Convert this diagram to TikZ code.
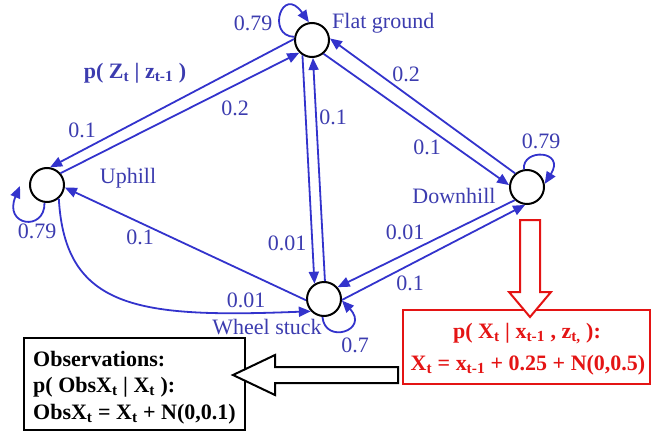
\documentclass[tikz,border=0pt]{standalone}
\usepackage{fontspec}
\setmainfont{Liberation Serif}
\usetikzlibrary{arrows.meta}
\definecolor{lblue}{RGB}{51,51,204}
\definecolor{tblue}{RGB}{60,60,175}
\definecolor{rred}{RGB}{228,20,20}
\newcommand{\sbs}[1]{\textsubscript{#1}}
\begin{document}
\begin{tikzpicture}[x=1pt,y=1pt,
  state/.style={circle,draw=black,line width=2pt,minimum size=34pt,inner sep=0pt,fill=white},
  conn/.style={draw=lblue,line width=1.8pt,-{Triangle[length=12pt,width=10pt]}},
  lbl/.style={text=tblue,font=\fontsize{22}{25}\selectfont,inner sep=0pt},
  btxt/.style={font=\fontsize{22}{25}\selectfont\bfseries,inner sep=0pt},
  obsbox/.style={draw=black,line width=2pt,minimum width=221pt,minimum height=92pt,inner sep=0pt},
  redbox/.style={draw=rred,line width=2pt,minimum width=247pt,minimum height=74pt,inner sep=0pt},
  fat/.style={line width=2pt,fill=white,line join=miter}]
\useasboundingbox (0,0) rectangle (652,-433);

% states
\node[state] (F) at (312,-40) {};
\node[state] (U) at (47,-185) {};
\node[state] (D) at (527,-187) {};
\node[state] (W) at (324,-299) {};

% state names
\node[lbl,anchor=west] (nF) at (332,-23) {Flat ground};
\node[lbl] (nU) at (128,-178) {Uphill};
\node[lbl] (nD) at (454,-196) {Downhill};
\node[lbl] (nW) at (267,-327) {Wheel stuck};
\node[lbl,font=\fontsize{22}{25}\selectfont\bfseries] (pz) at (135,-73) {p( Z\sbs{t} | z\sbs{t-1} )};

% transitions
\draw[conn] (F.177) -- (U.80);
\draw[conn] (U.41) -- (F.225);
\draw[conn] (F.238) -- (W.122);
\draw[conn] (W.87) -- (F.273);
\draw[conn] (D.131) -- (F.5);
\draw[conn] (F.310) -- (D.174);
\draw[conn] (D.227) -- (W.41);
\draw[conn] (W.357) -- (D.264);
\draw[conn] (W.184) -- (U.352);
\draw[conn] (U.311) .. controls (65,-310) and (140,-318) .. (W.223);

% self loops
\coordinate (Utip) at (20,-186);
\draw[conn] (F.170) .. controls (266,-36) and (282,16) .. (F.100);
\draw[conn] (D.100) .. controls (522,-148) and (566,-150) .. (D.10);
\draw[conn] (U.262) .. controls (45,-232) and (3,-226) .. (Utip);
\draw[conn] (W.265) .. controls (325,-345) and (370,-330) .. (W.355);

% probabilities
\node[lbl] at (253,-23) {0.79};
\node[lbl] at (235,-108) {0.2};
\node[lbl] at (82,-130) {0.1};
\node[lbl] at (37,-231) {0.79};
\node[lbl] at (140,-237) {0.1};
\node[lbl] at (246,-300) {0.01};
\node[lbl] at (287,-243) {0.01};
\node[lbl] at (333,-117) {0.1};
\node[lbl] at (406,-74) {0.2};
\node[lbl] at (427,-147) {0.1};
\node[lbl] at (541,-141) {0.79};
\node[lbl] at (405,-232) {0.01};
\node[lbl] at (410,-283) {0.1};
\node[lbl] at (355,-345) {0.7};

% boxes
\node[obsbox] (obs) at (134.5,-384) {};
\node[redbox] (model) at (526.5,-347) {};
\node[btxt,anchor=base west] at (33,-366) {Observations:};
\node[btxt,anchor=base west] at (33,-392) {p( ObsX\sbs{t} | X\sbs{t} ):};
\node[btxt,anchor=base west] at (33,-419) {ObsX\sbs{t} = X\sbs{t} + N(0,0.1)};
\node[btxt,text=rred,anchor=base] at (527,-338) {p( X\sbs{t} | x\sbs{t-1} , z\sbs{t,} ):};
\node[btxt,text=rred,anchor=base] at (528,-370) {X\sbs{t} = x\sbs{t-1} + 0.25 + N(0,0.5)};

% block arrows
\draw[fat,draw=rred] (520,-220) -- (540,-220) -- (540,-292) -- (551,-292) -- (530,-317) -- (509,-292) -- (520,-292) -- cycle;
\draw[fat,draw=black] (398,-367) -- (275,-367) -- (275,-355) -- (233,-375) -- (275,-395) -- (275,-383) -- (398,-383) -- cycle;
\end{tikzpicture}
\end{document}
